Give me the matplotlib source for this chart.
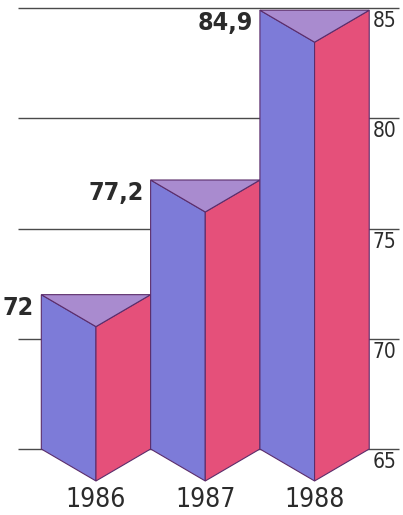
import matplotlib.pyplot as plt
from matplotlib.patches import Polygon
from matplotlib import font_manager

# Data
years = ['1986', '1987', '1988']
values = [72, 77.2, 84.9]
value_labels = ['72', '77,2', '84,9']
ticks = [65, 70, 75, 80, 85]

# Style constants
LEFT_COLOR = '#7d7bd8'
RIGHT_COLOR = '#e5507a'
TOP_COLOR = '#a98bcf'
EDGE_COLOR = '#5b2d6b'
GRID_COLOR = '#4a4a4a'
TEXT_COLOR = '#2b2b2b'

# prefer a condensed face if one is installed
cond = font_manager.findfont(font_manager.FontProperties(family='DejaVu Sans', stretch='condensed'))
if 'Condensed' in cond:
    FONT = dict(family='DejaVu Sans', stretch='condensed')
    SCALE = 1.0
else:
    FONT = dict(family='Liberation Sans')
    SCALE = 0.88

BASE = 65
HALF_W = 0.5      # half bar width, in category units
DEPTH = 1.45      # drop of the front edge, in value units

fig = plt.figure(figsize=(4.03, 5.15), dpi=100)
ax = fig.add_axes([0, 0, 1, 1])
ax.set_xlim(-0.878, 2.809)
ax.set_ylim(62.007, 85.363)
ax.axis('off')

# Grid lines behind the prisms
ax.hlines(ticks, -0.714, 2.776, color=GRID_COLOR, linewidth=1.0, zorder=1)
for t in ticks:
    ax.text(2.534, t - 0.6, str(t), ha='left', va='center', fontsize=15 * SCALE,
            color=TEXT_COLOR, **FONT)

for i, (v, lab, yr) in enumerate(zip(values, value_labels, years)):
    left = [(i - HALF_W, BASE), (i - HALF_W, v), (i, v - DEPTH), (i, BASE - DEPTH)]
    right = [(i, BASE - DEPTH), (i, v - DEPTH), (i + HALF_W, v), (i + HALF_W, BASE)]
    top = [(i - HALF_W, v), (i + HALF_W, v), (i, v - DEPTH)]
    for pts, col in ((left, LEFT_COLOR), (right, RIGHT_COLOR), (top, TOP_COLOR)):
        ax.add_patch(Polygon(pts, closed=True, facecolor=col, edgecolor=EDGE_COLOR,
                             linewidth=0.8, zorder=2 + i))
    ax.text(i - HALF_W - 0.065, v - 0.6, lab, ha='right', va='center',
            fontsize=18 * SCALE, fontweight='bold', color=TEXT_COLOR, **FONT)
    ax.text(i, 62.7, yr, ha='center', va='center', fontsize=19 * SCALE,
            color=TEXT_COLOR, **FONT)

fig.savefig('out.png', dpi=100, facecolor='white')
